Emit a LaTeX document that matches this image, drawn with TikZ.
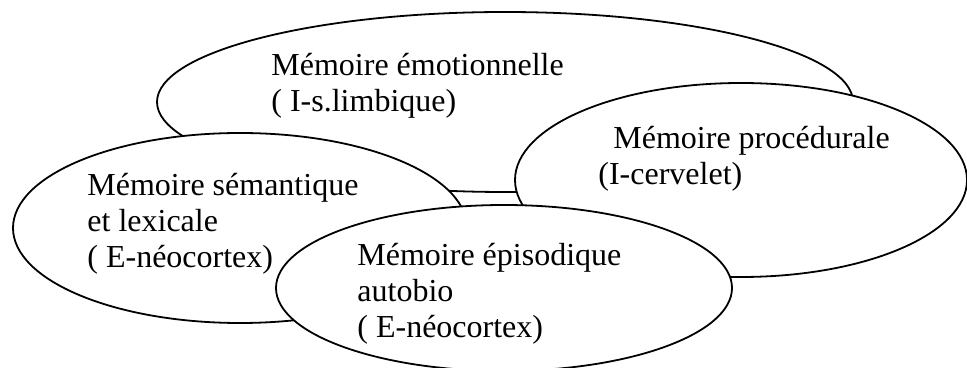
\documentclass[tikz,border=0pt]{standalone}
\usepackage{fontspec}
\setmainfont{Liberation Serif}
\usepackage{tikz}

\begin{document}
\begin{tikzpicture}[line cap=round,line join=round,x=0.5pt,y=-0.5pt,
    bulle/.style={draw=black,fill=white,line width=0.9pt},
    texte/.style={anchor=north west,inner sep=0pt,align=left,font=\fontsize{16}{18}\selectfont}]
    \useasboundingbox (0,0) rectangle (967,368);
    % les bulles, de l'arriere vers l'avant
    \draw [bulle] (505,102) ellipse [x radius=348,y radius=90];
    \draw [bulle] (741,180) ellipse [x radius=226,y radius=97];
    \draw [bulle] (240,228) ellipse [x radius=227,y radius=95];
    \draw [bulle] (504,288) ellipse [x radius=228,y radius=83];
    % les textes
    \node [texte] (emo) at (271,53) {Mémoire émotionnelle\\( I-s.limbique)};
    \node [texte] (proc) at (598,126) {\hspace*{7.5pt}Mémoire procédurale\\(I-cervelet)};
    \node [texte] (sem) at (87,173) {Mémoire sémantique\\et lexicale\\( E-néocortex)};
    \node [texte] (epi) at (357,243) {Mémoire épisodique\\autobio\\( E-néocortex)};
\end{tikzpicture}
\end{document}
